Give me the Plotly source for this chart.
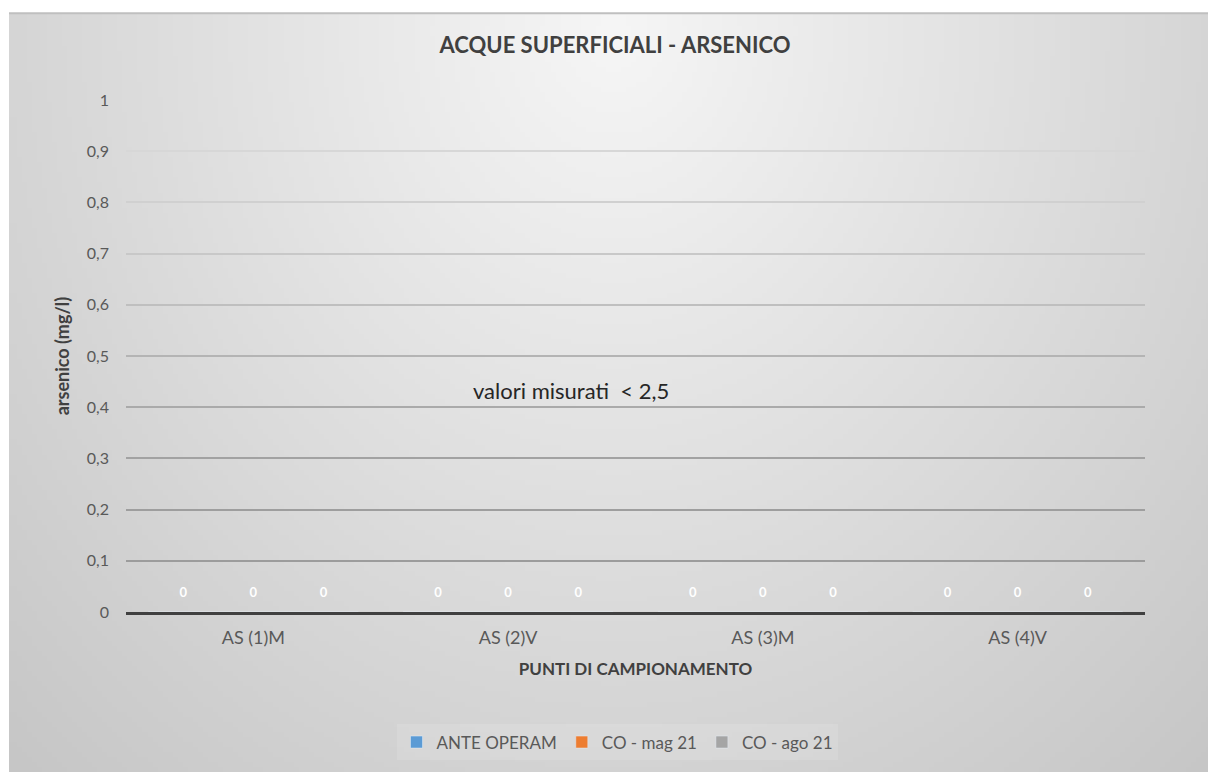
import base64, struct, zlib
import plotly.graph_objects as go

# ---- data ----
categories = ["AS (1)M", "AS (2)V", "AS (3)M", "AS (4)V"]
series_names = ["ANTE OPERAM", "CO - mag 21", "CO - ago 21"]
ante_operam = [0, 0, 0, 0]
co_mag21 = [0, 0, 0, 0]
co_ago21 = [0, 0, 0, 0]
series_values = [ante_operam, co_mag21, co_ago21]
series_colors = ["#5B9BD5", "#ED7D31", "#A5A5A5"]
y_ticks = [0, 0.1, 0.2, 0.3, 0.4, 0.5, 0.6, 0.7, 0.8, 0.9, 1]
y_tick_labels = ["0", "0,1", "0,2", "0,3", "0,4", "0,5", "0,6", "0,7", "0,8", "0,9", "1"]
grid_colors = ["#9c9c9c", "#9e9e9e", "#a2a2a2", "#aaaaaa", "#b4b4b4",
               "#bfbfbf", "#c8c8c8", "#d0d0d0", "#d7d7d7", "#dcdcdc"]

# ---- page geometry ----
W, H = 1208, 772
L, R, T, B = 126, W - 1145, 100, H - 614
pw, ph = W - L - R, H - T - B
chart_x0, chart_y0 = 9, 13


def gradient_png(w, h):
    rows = []
    for j in range(h):
        yy = j / (h - 1)
        row = bytearray([0])
        for i in range(w):
            xx = i / (w - 1)
            d = (((xx - 0.5) / 0.55) ** 2 + ((yy - 0.02) / 1.0) ** 2) ** 0.5
            v = int(max(196, min(246, 246 - 36 * d)))
            row.append(v)
        rows.append(bytes(row))
    raw = b"".join(rows)

    def chunk(t, data):
        c = struct.pack(">I", len(data)) + t + data
        return c + struct.pack(">I", zlib.crc32(t + data) & 0xffffffff)

    png = b"\x89PNG\r\n\x1a\n"
    png += chunk(b"IHDR", struct.pack(">IIBBBBB", w, h, 8, 0, 0, 0, 0))
    png += chunk(b"IDAT", zlib.compress(raw, 9))
    png += chunk(b"IEND", b"")
    return "data:image/png;base64," + base64.b64encode(png).decode()


FONT = "Lato"
fig = go.Figure()
for name, vals, col in zip(series_names, series_values, series_colors):
    fig.add_trace(go.Bar(
        name=name, x=categories, y=vals, marker_color=col,
        offsetgroup=name, hoverinfo="skip"))
# data labels (white, bold) above each zero-height bar
for name, vals in zip(series_names, series_values):
    fig.add_trace(go.Scatter(
        x=categories, y=vals, mode="markers+text", offsetgroup=name,
        text=[f"<b>{v}</b>" for v in vals], textposition="top center",
        textfont=dict(color="white", size=13, family=FONT),
        marker=dict(size=17, opacity=0), cliponaxis=False,
        showlegend=False, hoverinfo="skip"))

# gradient background of the chart area
fig.add_layout_image(dict(
    source=gradient_png(240, 152), xref="paper", yref="paper",
    x=(chart_x0 - L) / pw, y=(H - B - chart_y0) / ph,
    sizex=(W + 10 - chart_x0) / pw, sizey=(H + 10 - chart_y0) / ph,
    sizing="stretch", xanchor="left", yanchor="top", layer="below"))

# top border of chart area
fig.add_shape(type="line", xref="paper", yref="paper",
              x0=(chart_x0 - L) / pw, x1=(W - L) / pw,
              y0=(H - B - chart_y0) / ph, y1=(H - B - chart_y0) / ph,
              line=dict(color="#bfbfbf", width=2))

layout = dict(
    width=W, height=H,
    margin=dict(l=L, r=R, t=T, b=B, pad=0),
    paper_bgcolor="white", plot_bgcolor="rgba(0,0,0,0)",
    barmode="group", bargap=0.175, bargroupgap=0,
    scattermode="group", scattergap=0.175,
    font=dict(family=FONT, color="#595959", size=15),
    title=dict(text="<b>ACQUE SUPERFICIALI - ARSENICO</b>", xref="paper",
               x=(615 - L) / pw, xanchor="center",
               y=1 - 45 / H, yanchor="middle",
               font=dict(size=22, color="#404040", family=FONT)),
    xaxis=dict(type="category", showgrid=False, showline=True,
               linecolor="#404040", linewidth=2.5, ticks="",
               ticklabelstandoff=8,
               tickfont=dict(size=18, color="#595959"),
               title=dict(text="<b>PUNTI DI CAMPIONAMENTO</b>", standoff=16,
                          font=dict(size=17, color="#404040"))),
    yaxis=dict(range=[0, 1], tickvals=y_ticks, ticktext=y_tick_labels,
               showgrid=False, zeroline=False, showline=False, ticks="",
               ticklabelstandoff=16,
               tickfont=dict(size=16, color="#595959"),
               title=dict(text="<b>arsenico (mg/l)</b>", standoff=12,
                          font=dict(size=18, color="#404040"))),
    legend=dict(orientation="h", xref="paper", x=(617 - L) / pw, xanchor="center",
                y=-(745 - 614) / ph, yanchor="middle",
                bgcolor="rgba(255,255,255,0.12)",
                font=dict(size=17, color="#595959"), traceorder="normal",
                itemwidth=30),
    showlegend=True,
    annotations=[dict(text="valori misurati  < 2,5", xref="paper", yref="paper",
                      x=(571 - L) / pw, y=(614 - 392) / ph, showarrow=False,
                      font=dict(size=22, color="#262626", family=FONT))],
)
# per-gridline coloured overlaying axes
for k, (tv, gc) in enumerate(zip(y_ticks[1:], grid_colors), start=2):
    layout[f"yaxis{k}"] = dict(range=[0, 1], overlaying="y", tickvals=[tv],
                               showticklabels=False, showgrid=True, gridcolor=gc,
                               gridwidth=1.5, zeroline=False, ticks="",
                               anchor="x")
fig.update_layout(**layout)
for k in range(2, 2 + len(grid_colors)):
    fig.add_trace(go.Scatter(x=[], y=[], yaxis=f"y{k}", showlegend=False,
                             hoverinfo="skip"))
fig.write_html("out.html", config={"displayModeBar": False})

# remove the browser's default page margin so the figure sits at (0, 0)
with open("out.html", encoding="utf-8") as f:
    html = f.read()
html = html.replace("<head>", "<head><style>html,body{margin:0;padding:0;overflow:hidden;}</style>", 1)
with open("out.html", "w", encoding="utf-8") as f:
    f.write(html)
